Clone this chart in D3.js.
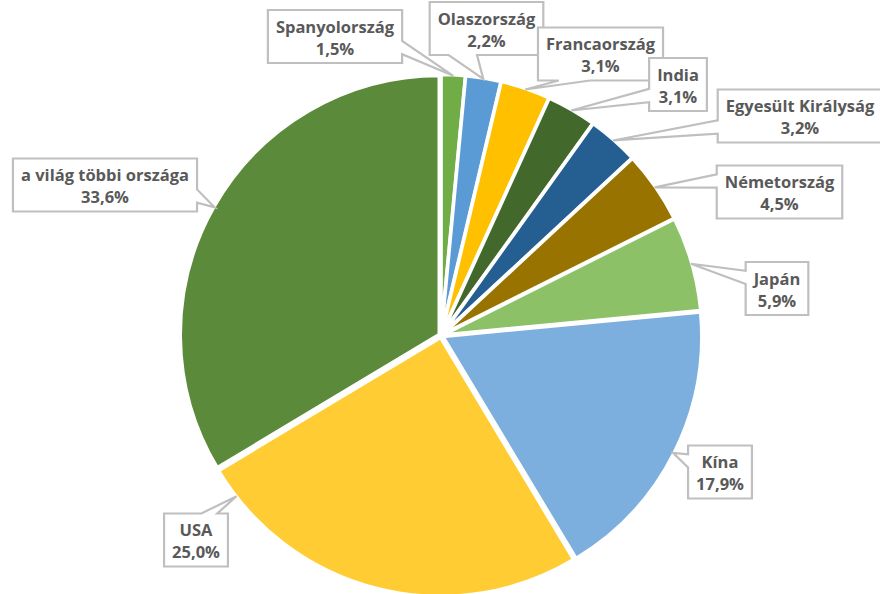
<!DOCTYPE html>
<html>
<head>
<meta charset="utf-8">
<script src="https://cdn.jsdelivr.net/npm/d3@7"></script>
<style>
  html, body { margin: 0; padding: 0; background: #ffffff; }
  svg { display: block; }
</style>
</head>
<body>
<svg id="chart" width="880" height="594"></svg>
<script>
// Share of countries (percent), clockwise from 12 o'clock
const countries = ["Spanyolország", "Olaszország", "Francaország", "India", "Egyesült Királyság",
                   "Németország", "Japán", "Kína", "USA", "a világ többi országa"];
const shares = [1.5, 2.2, 3.1, 3.1, 3.2, 4.5, 5.9, 17.9, 25.0, 33.6];
const sliceColors = ["#70ad47", "#5b9bd5", "#ffc000", "#43682b", "#255e91",
                     "#997300", "#8cc168", "#7cafdd", "#ffcd33", "#5a8a3a"];

// Callout layout: box centre and where along the slice arc the pointer lands (0..1)
const calloutLayout = [
  { cx: 335, cy: 36.5, at: 0.5 },
  { cx: 486.5, cy: 28.5, at: 0.5 },
  { cx: 600.5, cy: 54, at: 0.5 },
  { cx: 678, cy: 84.5, at: 0.5 },
  { cx: 800, cy: 116, at: 0.5 },
  { cx: 779.5, cy: 192, at: 0.5 },
  { cx: 777, cy: 288.5, at: 0.5 },
  { cx: 720, cy: 472, at: 0.5 },
  { cx: 196, cy: 540, at: 0.92 },
  { cx: 105, cy: 185, at: 0.5 }
];

const fmt = v => v.toFixed(1).replace(".", ",") + "%";

const svg = d3.select("#chart");
const center = [441, 335.5];
const R = 259;
const explode = 2;

const pie = d3.pie().sort(null).value(d => d).startAngle(0).endAngle(2 * Math.PI);
const arcs = pie(shares);
const arc = d3.arc().innerRadius(0).outerRadius(R);

const g = svg.append("g").attr("transform", `translate(${center[0]},${center[1]})`);

g.selectAll("path.slice")
  .data(arcs)
  .join("path")
  .attr("class", "slice")
  .attr("d", arc)
  .attr("fill", (d, i) => sliceColors[i])
  .attr("stroke", "#ffffff")
  .attr("stroke-width", 3.5)
  .attr("stroke-linejoin", "miter")
  .attr("transform", d => {
    const m = (d.startAngle + d.endAngle) / 2;
    return `translate(${explode * Math.sin(m)},${-explode * Math.cos(m)})`;
  });

// Excel-style wedge rectangle callout path
function callout(x0, y0, w, h, tx, ty) {
  const hc = x0 + w / 2, vc = y0 + h / 2;
  const dx = tx - hc, dy = ty - vc;
  const dq = dx * h / w;
  const dz = Math.abs(dy) - Math.abs(dq);
  const x1 = x0 + w * (dx > 0 ? 7 : 2) / 12, x2 = x0 + w * (dx > 0 ? 10 : 5) / 12;
  const y1 = y0 + h * (dy > 0 ? 7 : 2) / 12, y2 = y0 + h * (dy > 0 ? 10 : 5) / 12;
  const r = x0 + w, b = y0 + h;
  const p = [[x0, y0]];
  if (dz > 0 && dy < 0) p.push([x1, y0], [tx, ty], [x2, y0]);
  p.push([r, y0]);
  if (dz <= 0 && dx > 0) p.push([r, y1], [tx, ty], [r, y2]);
  p.push([r, b]);
  if (dz > 0 && dy > 0) p.push([x2, b], [tx, ty], [x1, b]);
  p.push([x0, b]);
  if (dz <= 0 && dx < 0) p.push([x0, y2], [tx, ty], [x0, y1]);
  return "M" + p.map(q => q.join(",")).join("L") + "Z";
}

const labelFont = "bold 16.5px 'Open Sans', 'Noto Sans', sans-serif";
const textColor = "#595959";
const tipR = R + 1;

const labels = svg.append("g");
arcs.forEach((d, i) => {
  const lay = calloutLayout[i];
  const ang = d.startAngle + (d.endAngle - d.startAngle) * lay.at;
  const tx = center[0] + tipR * Math.sin(ang);
  const ty = center[1] - tipR * Math.cos(ang);

  const grp = labels.append("g");
  const t1 = grp.append("text")
    .attr("x", lay.cx).attr("y", lay.cy - 4)
    .attr("text-anchor", "middle")
    .style("font", labelFont).attr("fill", textColor)
    .text(countries[i]);
  const t2 = grp.append("text")
    .attr("x", lay.cx).attr("y", lay.cy + 18)
    .attr("text-anchor", "middle")
    .style("font", labelFont).attr("fill", textColor)
    .text(fmt(shares[i]));
  const tw = Math.max(t1.node().getComputedTextLength(), t2.node().getComputedTextLength());
  const bw = tw + 16, bh = 53;
  grp.insert("path", "text")
    .attr("d", callout(lay.cx - bw / 2, lay.cy - bh / 2, bw, bh, tx, ty))
    .attr("fill", "#ffffff")
    .attr("stroke", "#bfbfbf")
    .attr("stroke-width", 2.2)
    .attr("stroke-linejoin", "miter");
});
</script>
</body>
</html>
